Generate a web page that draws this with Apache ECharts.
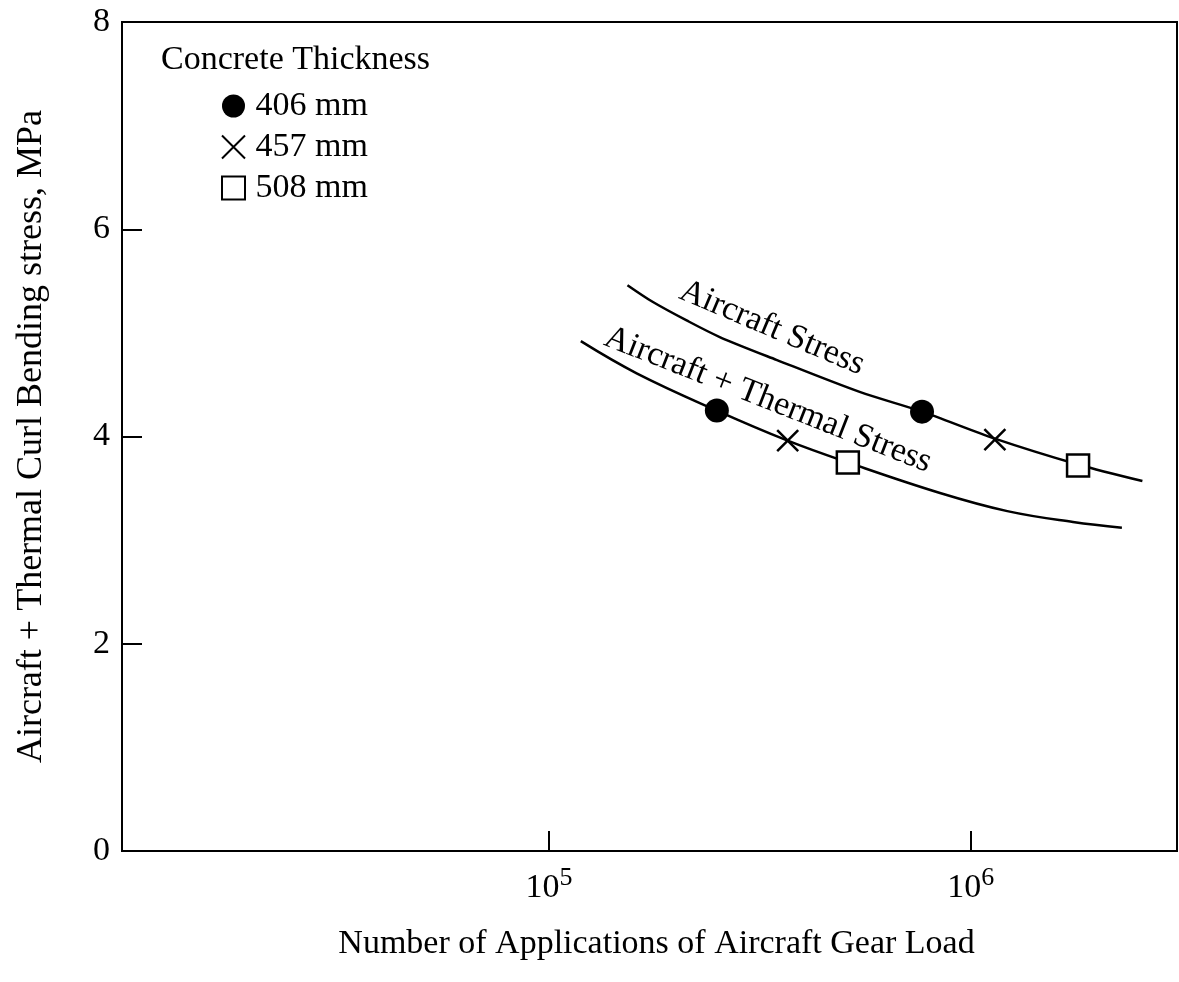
<!DOCTYPE html>
<html>
<head>
<meta charset="utf-8">
<script src="https://cdn.jsdelivr.net/npm/echarts@6/dist/echarts.min.js"></script>
<style>
  html, body { margin: 0; padding: 0; background: #fff; }
  #chart { width: 1179px; height: 982px; }
</style>
</head>
<body>
<div id="chart"></div>
<script>
    // 曲线数据
    var aircraftN = [1.535e5, 1.76e5, 2.12e5, 2.54e5, 3.46e5, 5.45e5, 7.66e5, 1.14e6, 1.795e6, 2.55e6];
    var aircraftS = [5.46, 5.30, 5.12, 4.96, 4.74, 4.43, 4.24, 3.98, 3.73, 3.57];
    var thermalN = [1.19e5, 1.614e5, 2.50e5, 3.68e5, 5.11e5, 8.45e5, 1.22e6, 1.746e6, 2.28e6];
    var thermalS = [4.92, 4.61, 4.25, 3.96, 3.75, 3.455, 3.28, 3.175, 3.12];

    // 各厚度的点
    var thickNames = ['406 mm', '457 mm', '508 mm'];
    var pointN = [
        [2.50e5, 7.66e5],
        [3.68e5, 1.14e6],
        [5.11e5, 1.795e6]
    ];
    var pointS = [
        [4.25, 4.24],
        [3.96, 3.97],
        [3.75, 3.72]
    ];

    var xTicks = [1e5, 1e6];

    var font = '"Liberation Serif", "DejaVu Serif", serif';

    function pairs (xs, ys) {
        var out = [];
        for (var i = 0; i < xs.length; i++) {
            out.push([xs[i], ys[i]]);
        }
        return out;
    }

    var symbols = [
        { symbol: 'circle', symbolSize: 24, itemStyle: { color: '#000', opacity: 1 } },
        { symbol: 'path://M0,0L10,10M10,0L0,10', symbolSize: 21, itemStyle: { color: 'transparent', borderColor: '#000', borderWidth: 2.5, opacity: 1 } },
        { symbol: 'path://M0,0H10V10H0Z', symbolSize: 22, itemStyle: { color: '#fff', borderColor: '#000', borderWidth: 2.5, opacity: 1 } }
    ];

    var option = {
        animation: false,
        backgroundColor: '#fff',
        textStyle: { fontFamily: font, color: '#000' },
        title: {
            text: 'Concrete Thickness',
            left: 156,
            top: 38,
            textStyle: { fontFamily: font, fontSize: 34, fontWeight: 'normal', color: '#000' }
        },
        legend: {
            data: thickNames,
            orient: 'vertical',
            left: 216,
            top: 84,
            itemGap: 7,
            itemWidth: 34,
            itemHeight: 23,
            textStyle: { fontFamily: font, fontSize: 34, color: '#000' }
        },
        grid: {
            left: 122,
            right: 2,
            top: 22,
            bottom: 131,
            show: true,
            borderColor: '#000',
            borderWidth: 2
        },
        xAxis: {
            type: 'log',
            logBase: 10,
            min: 9730,
            max: 3.08e6,
            name: 'Number of Applications of Aircraft Gear Load',
            nameLocation: 'middle',
            nameGap: 76,
            nameTextStyle: { fontFamily: font, fontSize: 34, color: '#000', padding: [0, 0, 0, 14] },
            axisLine: { lineStyle: { color: '#000', width: 2 } },
            axisTick: { inside: true, length: 20, customValues: xTicks, lineStyle: { color: '#000', width: 2 } },
            axisLabel: {
                customValues: xTicks,
                margin: 14,
                formatter: function (v) {
                    return '{b|10}{s|' + Math.round(Math.log(v) / Math.LN10) + '}';
                },
                rich: {
                    b: { fontFamily: font, fontSize: 34, color: '#000' },
                    s: { fontFamily: font, fontSize: 26, color: '#000', padding: [0, 0, 20, 0] }
                }
            },
            splitLine: { show: false },
            minorTick: { show: false }
        },
        yAxis: {
            type: 'value',
            min: 0,
            max: 8,
            interval: 2,
            name: 'Aircraft + Thermal Curl Bending stress, MPa',
            nameLocation: 'middle',
            nameGap: 72,
            nameTextStyle: { fontFamily: font, fontSize: 36, color: '#000' },
            axisLine: { show: true, lineStyle: { color: '#000', width: 2 } },
            axisTick: { show: true, inside: true, length: 20, lineStyle: { color: '#000', width: 2 } },
            axisLabel: { fontFamily: font, fontSize: 34, color: '#000', margin: 12 },
            splitLine: { show: false }
        },
        graphic: [
            {
                type: 'text',
                x: 772,
                y: 328,
                rotation: -23 * Math.PI / 180,
                style: { text: 'Aircraft Stress', fontFamily: font, fontSize: 34, fill: '#000', align: 'center', verticalAlign: 'middle' }
            },
            {
                type: 'text',
                x: 768,
                y: 400,
                rotation: -21.5 * Math.PI / 180,
                style: { text: 'Aircraft + Thermal Stress', fontFamily: font, fontSize: 34, fill: '#000', align: 'center', verticalAlign: 'middle' }
            }
        ],
        series: [
            {
                name: 'Aircraft Stress',
                type: 'line',
                smooth: 0.3,
                showSymbol: false,
                silent: true,
                lineStyle: { color: '#000', width: 2.5 },
                data: pairs(aircraftN, aircraftS),
                z: 1
            },
            {
                name: 'Aircraft + Thermal Stress',
                type: 'line',
                smooth: 0.4,
                showSymbol: false,
                silent: true,
                lineStyle: { color: '#000', width: 2.5 },
                data: pairs(thermalN, thermalS),
                z: 1
            }
        ]
    };

    for (var i = 0; i < thickNames.length; i++) {
        option.series.push({
            name: thickNames[i],
            type: 'scatter',
            symbol: symbols[i].symbol,
            symbolSize: symbols[i].symbolSize,
            symbolKeepAspect: true,
            itemStyle: symbols[i].itemStyle,
            data: pairs(pointN[i], pointS[i]),
            z: 3
        });
    }

    var chart = echarts.init(document.getElementById('chart'));
    chart.setOption(option);
</script>
</body>
</html>
